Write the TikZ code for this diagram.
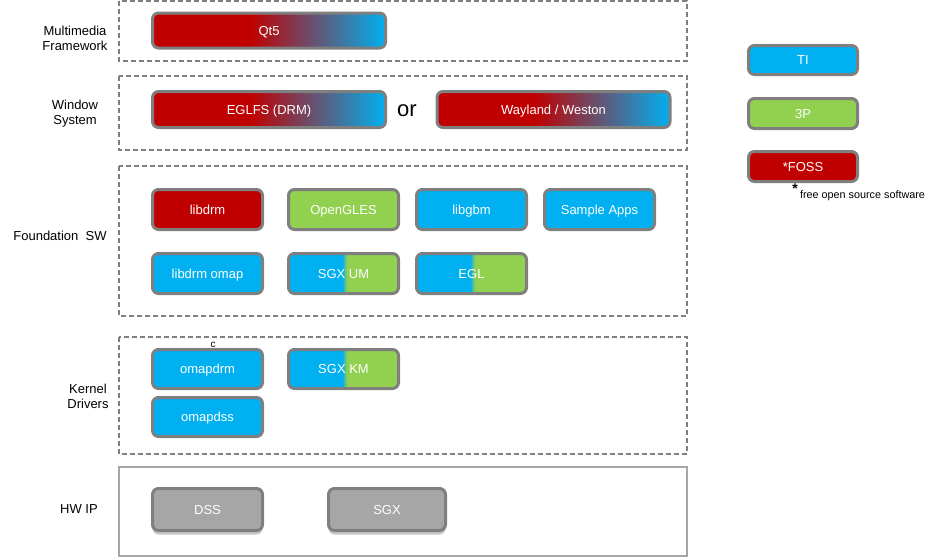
\documentclass[tikz,border=0pt]{standalone}
\usepackage{fontspec}
\setmainfont{Liberation Sans}
\usetikzlibrary{shadows}
\definecolor{tiblue}{HTML}{00B0F0}
\definecolor{tpgreen}{HTML}{92D050}
\definecolor{fossred}{HTML}{C00000}
\definecolor{hwgray}{HTML}{A6A6A6}
\definecolor{edgegray}{HTML}{7F7F7F}
\pgfdeclarehorizontalshading{redblue}{100bp}{color(0bp)=(fossred); color(25bp)=(fossred); color(46bp)=(fossred); color(75bp)=(tiblue); color(100bp)=(tiblue)}
\pgfdeclarehorizontalshading{bluegreen}{100bp}{color(0bp)=(tiblue); color(49.5bp)=(tiblue); color(51.5bp)=(tpgreen); color(100bp)=(tpgreen)}
\begin{document}
\begin{tikzpicture}[
        x=1pt, y=-1pt,
        every node/.style={font=\fontsize{13}{15}\selectfont},
        frame/.style={draw=edgegray, line width=1.5pt, dash pattern=on 5pt off 3pt},
        hwframe/.style={draw=hwgray, line width=2pt},
        blk/.style={draw=edgegray, line width=3pt, rounded corners=6pt,
          minimum width=110pt, minimum height=40pt, text=white, inner sep=0pt,
          text height=9.3pt, text depth=0pt},
        tibox/.style={blk, fill=tiblue},
        tpbox/.style={blk, fill=tpgreen},
        fossbox/.style={blk, fill=fossred},
        mixbox/.style={blk, shade, shading=bluegreen},
        widebox/.style={blk, shade, shading=redblue, minimum width=233pt, minimum height=35pt},
        hwbox/.style={blk, fill=hwgray, minimum height=42pt,
          drop shadow={shadow xshift=0pt, shadow yshift=-4pt, opacity=0.45, fill=gray}},
        layer/.style={align=center}
    ]
    \useasboundingbox (0,0) rectangle (935,558);

    % Layer frames
    \draw[frame] (119,1) rectangle (687,61);
    \draw[frame] (119,76) rectangle (687,150);
    \draw[frame] (119,166) rectangle (687,316);
    \draw[frame] (119,337) rectangle (687,454);
    \draw[hwframe] (119,467) rectangle (687,556);

    % Layer labels
    \node[layer] (mmlabel) at (75,38.5) {Multimedia\\Framework};
    \node[layer] (wslabel) at (75,114) {Window\\System};
    \node[layer] (fslabel) at (60,236) {Foundation~~SW};
    \node[layer] (kdlabel) at (88,396) {Kernel\\Drivers};
    \node[layer] (hwlabel) at (79,509) {HW IP};

    % Multimedia framework
    \node[widebox] (qt) at (269,30.5) {Qt5};

    % Window system
    \node[widebox, minimum height=36pt] (eglfs) at (269,109.5) {EGLFS (DRM)};
    \node[font=\fontsize{22}{24}\selectfont] (or) at (407,111) {or};
    \node[widebox, minimum height=36pt] (wayland) at (553.5,109.5) {Wayland / Weston};

    % Foundation SW
    \node[fossbox] (libdrm) at (207.5,209.5) {libdrm};
    \node[tpbox] (gles) at (343.5,209.5) {OpenGLES};
    \node[tibox] (gbm) at (471.5,209.5) {libgbm};
    \node[tibox] (apps) at (599.5,209.5) {Sample Apps};
    \node[tibox] (drmomap) at (207.5,273.5) {libdrm omap};
    \node[mixbox] (sgxum) at (343.5,273.5) {SGX UM};
    \node[mixbox] (egl) at (471.5,273.5) {EGL};

    % Kernel drivers
    \node[font=\fontsize{10}{11}\selectfont] (cmark) at (213,345) {c};
    \node[tibox, minimum height=39pt] (omapdrm) at (207.5,369) {omapdrm};
    \node[mixbox, minimum height=39pt] (sgxkm) at (343.5,369) {SGX KM};
    \node[tibox, minimum height=39pt] (omapdss) at (207.5,417) {omapdss};

    % HW IP
    \node[hwbox] (dss) at (207.5,509.5) {DSS};
    \node[hwbox, minimum width=117pt] (sgx) at (387,509.5) {SGX};

    % Legend
    \node[tibox, minimum width=109pt, minimum height=29pt] (ti) at (803,60) {TI};
    \node[tpbox, minimum width=109pt, minimum height=30pt] (tp) at (803,113.5) {3P};
    \node[fossbox, minimum width=109pt, minimum height=30pt] (foss) at (803,166.5) {*FOSS};
    \node[font=\fontsize{14}{14}\selectfont\bfseries, inner sep=0pt] (star) at (795,189) {*};
    \node[font=\fontsize{10.8}{12}\selectfont, inner sep=0pt] (fossnote) at (862.5,196) {free open source software};
\end{tikzpicture}
\end{document}
